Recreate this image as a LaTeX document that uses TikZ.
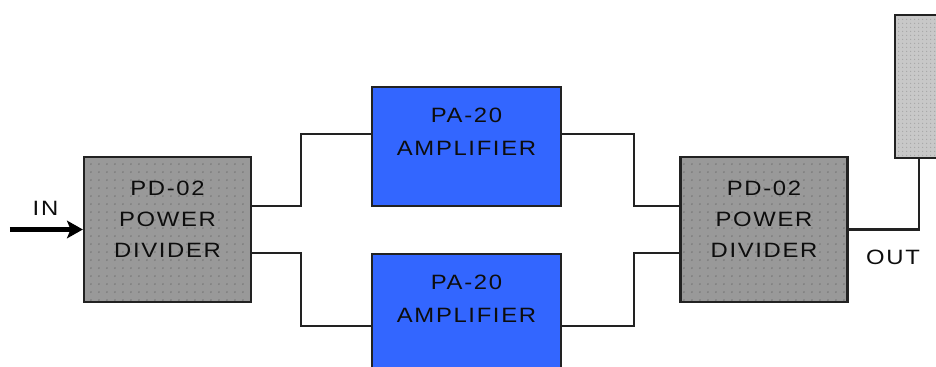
\documentclass[tikz,border=0pt]{standalone}
\usepackage{fontspec}
\setmainfont{Liberation Sans}[FakeStretch=1.15, LetterSpace=8]
\usepackage{tikz}
\usetikzlibrary{arrows.meta, positioning, calc, patterns.meta}
\definecolor{pdgray}{HTML}{999999}
\definecolor{pddot}{HTML}{7A7A7A}
\definecolor{loadgray}{HTML}{C8C8C8}
\definecolor{loaddot}{HTML}{A6A6A6}
\definecolor{pablue}{HTML}{3366FF}
\definecolor{edge}{HTML}{222222}
\tikzdeclarepattern{name=pddots, type=uncolored,
  bounding box={(0,0) and (4.5pt,4.5pt)}, tile size={(4.5pt,4.5pt)},
  code={\fill (2.25pt,2.25pt) circle (0.55pt);}}
\tikzdeclarepattern{name=loaddots, type=uncolored,
  bounding box={(0,0) and (2.3pt,2.3pt)}, tile size={(2.3pt,2.3pt)},
  code={\fill (1.15pt,1.15pt) circle (0.45pt);}}

\begin{document}
\begin{tikzpicture}[
  pdbox/.style={rectangle, draw=edge, line width=1.3pt, preaction={fill=pdgray}, pattern=pddots, pattern color=pddot, minimum width=3.34cm, minimum height=2.9cm, inner sep=0pt},
  pabox/.style={rectangle, draw=edge, line width=1.3pt, fill=pablue, minimum width=3.78cm, minimum height=2.38cm, inner sep=0pt},
  loadbox/.style={rectangle, draw=edge, line width=1.3pt, preaction={fill=loadgray}, pattern=loaddots, pattern color=loaddot, minimum width=1.4cm, minimum height=2.86cm, inner sep=0pt},
  boxtxt/.style={anchor=north, inner sep=0pt, align=center, text=black!95, font=\fontsize{11.8}{17.6}\selectfont},
  wire/.style={draw=edge, line width=1.3pt},
  arr/.style={draw=black, line width=3.4pt, -{Stealth[length=9pt, width=10pt, inset=2pt]}},
  lbl/.style={inner sep=0pt, text=black!95, font=\fontsize{11.8}{14}\selectfont},
]
\clip (0,0) rectangle (18.72,-7.34);

\node[pdbox] (pd1) at (3.35,-4.59) {};
\node[pdbox] (pd2) at (15.28,-4.59) {};
\node[pabox] (pa1) at (9.33,-2.93) {};
\node[pabox] (pa2) at (9.33,-6.27) {};
\node[loadbox] (load) at (18.6,-1.73) {};

\node[boxtxt] (pd1txt) at ([yshift=-0.49cm]pd1.north) {PD-02\\POWER\\DIVIDER};
\node[boxtxt] (pd2txt) at ([yshift=-0.49cm]pd2.north) {PD-02\\POWER\\DIVIDER};
\node[boxtxt, font=\fontsize{11.8}{18.7}\selectfont] (pa1txt) at ([yshift=-0.43cm]pa1.north) {PA-20\\AMPLIFIER};
\node[boxtxt, font=\fontsize{11.8}{18.7}\selectfont] (pa2txt) at ([yshift=-0.43cm]pa2.north) {PA-20\\AMPLIFIER};

\node[lbl] (inlbl) at (0.91,-4.17) {IN};
\node[lbl] (outlbl) at (17.86,-5.14) {OUT};

\coordinate (in) at (0.2,-4.59);
\draw[arr] (in) -- (pd1.west);

\draw[wire] ([yshift=0.47cm]pd1.east) -- ++(0.98,0) |- ([yshift=0.25cm]pa1.west);
\draw[wire] ([yshift=-0.47cm]pd1.east) -- ++(0.98,0) |- ([yshift=-0.25cm]pa2.west);
\draw[wire] ([yshift=0.25cm]pa1.east) -- ++(1.44,0) |- ([yshift=0.47cm]pd2.west);
\draw[wire] ([yshift=-0.25cm]pa2.east) -- ++(1.44,0) |- ([yshift=-0.47cm]pd2.west);
\draw[wire] (pd2.east) -| ([xshift=-0.22cm]load.south);
\end{tikzpicture}
\end{document}
